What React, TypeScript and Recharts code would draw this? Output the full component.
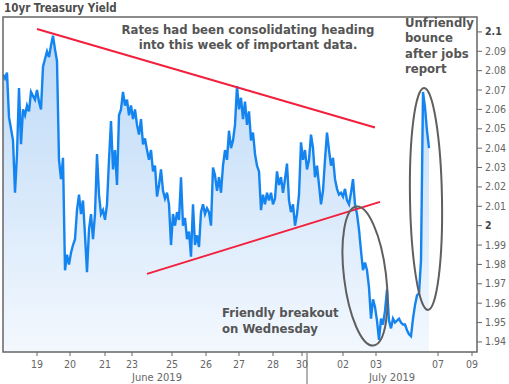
import React from 'react';
import { AreaChart, Area, XAxis, YAxis, ReferenceLine, ReferenceArea, ReferenceDot } from 'recharts';

// 10yr Treasury yield, sampled along a trading-time index
const yields = [
  2.078, 2.076, 2.079, 2.056, 2.050, 2.044, 2.017, 2.037, 2.071, 2.042,
  2.060, 2.057, 2.062, 2.059, 2.069, 2.067, 2.065, 2.070, 2.064, 2.060,
  2.082, 2.086, 2.090, 2.087, 2.093, 2.098, 2.091, 2.085, 2.034, 2.024,
  2.035, 1.977, 1.985, 1.980, 1.986, 1.990, 1.993, 2.008, 2.016, 2.006,
  2.013, 1.995, 1.976, 1.998, 2.006, 1.993, 2.006, 2.037, 2.016, 2.006,
  2.008, 2.003, 2.011, 2.034, 2.054, 2.029, 2.039, 2.021, 2.057, 2.060,
  2.069, 2.062, 2.065, 2.057, 2.062, 2.055, 2.060, 2.052, 2.047, 2.055,
  2.042, 2.045, 2.039, 2.034, 2.039, 2.028, 2.031, 2.015, 2.021, 2.029,
  2.018, 2.014, 2.017, 2.011, 1.990, 2.006, 2.000, 2.007, 2.003, 2.025,
  2.000, 2.004, 1.993, 1.997, 1.984, 2.011, 1.990, 1.995, 1.989, 2.007,
  2.011, 2.006, 2.009, 2.007, 2.000, 2.030, 2.026, 2.018, 2.025, 2.017,
  2.031, 2.039, 2.034, 2.049, 2.040, 2.044, 2.052, 2.072, 2.060, 2.066,
  2.055, 2.064, 2.052, 2.059, 2.044, 2.048, 2.037, 2.031, 2.028, 2.008,
  2.016, 2.011, 2.017, 2.013, 2.017, 2.011, 2.014, 2.028, 2.021, 2.025,
  2.017, 2.024, 2.032, 2.013, 2.007, 2.011, 2.000, 2.006, 2.016, 2.043,
  2.034, 2.039, 2.029, 2.034, 2.047, 2.040, 2.025, 2.031, 2.021, 2.011,
  2.018, 2.034, 2.048, 2.039, 2.031, 2.035, 2.024, 2.019, 2.016, 2.017,
  2.015, 2.019, 2.013, 2.011, 2.017, 2.024, 2.011, 2.006, 1.998, 1.987,
  1.977, 1.981, 1.977, 1.968, 1.952, 1.962, 1.958, 1.951, 1.941, 1.952,
  1.949, 1.956, 1.967, 1.951, 1.947, 1.952, 1.950, 1.951, 1.952, 1.950,
  1.949, 1.949, 1.946, 1.944, 1.943, 1.952, 1.959, 1.964, 1.965, 1.982,
  2.069, 2.061, 2.049, 2.040,
];

const dayTickPos = [17, 33.5, 51, 64.5, 84.5, 101.5, 118, 135, 149.5, 170, 186.5, 217.5, 234.5];
const dayTickLabels = ['19', '20', '21', '23', '25', '26', '27', '28', '30', '02', '03', '07', '09'];
const monthTickPos = [77, 194.5];
const monthTickLabels = ['June 2019', 'July 2019'];
const monthBoundary = 152;
const xDomain = [0, 237];

const yTicks = [1.94, 1.95, 1.96, 1.97, 1.98, 1.99, 2, 2.01, 2.02, 2.03, 2.04, 2.05, 2.06, 2.07, 2.08, 2.09, 2.1];
const boldYTicks = [2, 2.1];
const yDomain = [1.9348, 2.1077];

const upperTrend = [{ x: 17, y: 2.1015 }, { x: 186, y: 2.0507 }];
const lowerTrend = [{ x: 72, y: 1.9751 }, { x: 188.5, y: 2.0123 }];

const breakoutCircle = { x: 181, y: 1.974, rx: 21, ry: 70, angle: -7 };
const bounceCircle = { x: 211.5, y: 2.0138, rx: 16, ry: 111, angle: -1 };

const data = yields.map((v, i) => ({ i, v }));

const FONT = "'DejaVu Sans Condensed', 'DejaVu Sans', sans-serif";
const TEXT_GRAY = '#555';
const AXIS_GRAY = '#666';

const DayTick = (props: any) => {
  const { x, y, payload } = props;
  const idx = dayTickPos.indexOf(payload.value);
  return (
    <text x={x} y={y + 11.5} textAnchor="middle" fontSize={10.5} fontFamily={FONT} fill={AXIS_GRAY}>
      {idx >= 0 ? dayTickLabels[idx] : ''}
    </text>
  );
};

const MonthTick = (props: any) => {
  const { x, y, payload } = props;
  const idx = monthTickPos.indexOf(payload.value);
  if (idx >= 0) {
    return (
      <text x={x} y={y + 13} textAnchor="middle" fontSize={11} fontFamily={FONT} fill={AXIS_GRAY}>
        {monthTickLabels[idx]}
      </text>
    );
  }
  return <line x1={x} x2={x} y1={y - 15} y2={y + 16} stroke={AXIS_GRAY} strokeWidth={1} />;
};

const YTick = (props: any) => {
  const { x, y, payload } = props;
  const bold = boldYTicks.includes(payload.value);
  return (
    <text
      x={x}
      y={y + 3.5}
      textAnchor="start"
      fontSize={10.5}
      fontFamily={FONT}
      fontWeight={bold ? 'bold' : 'normal'}
      fill={bold ? '#444' : AXIS_GRAY}
    >
      {String(payload.value)}
    </text>
  );
};

const ellipseShape = (c: { rx: number; ry: number; angle: number }) => (p: any) => (
  <ellipse
    cx={p.cx}
    cy={p.cy}
    rx={c.rx}
    ry={c.ry}
    transform={`rotate(${c.angle} ${p.cx} ${p.cy})`}
    fill="none"
    stroke="#5f5f5f"
    strokeWidth={2}
  />
);

export default function App() {
  const annStyle = { fontFamily: FONT, fontWeight: 'bold' as const, fontSize: 13, fill: TEXT_GRAY };
  return (
    <div style={{ position: 'absolute', left: 0, top: 0, width: 509, height: 384, background: '#fff' }}>
      <AreaChart width={509} height={384} data={data} margin={{ top: 17, right: 0, bottom: 0, left: 3 }}>
        <defs>
          <linearGradient id="yieldFill" x1="0" y1="0" x2="0" y2="1">
            <stop offset="0%" stopColor="#bcd9f7" />
            <stop offset="100%" stopColor="#f3f8fe" />
          </linearGradient>
        </defs>
        <XAxis
          dataKey="i"
          type="number"
          domain={xDomain}
          allowDataOverflow
          ticks={dayTickPos}
          interval={0}
          height={16}
          axisLine={false}
          tickLine={{ stroke: AXIS_GRAY }}
          tickSize={4}
          tickMargin={0}
          tick={<DayTick />}
        />
        <XAxis
          xAxisId="month"
          dataKey="i"
          type="number"
          domain={xDomain}
          allowDataOverflow
          ticks={[...monthTickPos, monthBoundary]}
          interval={0}
          height={16}
          axisLine={false}
          tickLine={false}
          tickSize={0}
          tickMargin={0}
          tick={<MonthTick />}
        />
        <YAxis
          orientation="right"
          width={32}
          type="number"
          domain={yDomain}
          allowDataOverflow
          ticks={yTicks}
          interval={0}
          axisLine={false}
          tickLine={{ stroke: AXIS_GRAY }}
          tickSize={5}
          tickMargin={3}
          tick={<YTick />}
        />
        <Area
          type="linear"
          dataKey="v"
          stroke="#1484f0"
          strokeWidth={2.4}
          strokeLinejoin="miter"
          fill="url(#yieldFill)"
          fillOpacity={1}
          dot={false}
          activeDot={false}
          isAnimationActive={false}
        />
        <ReferenceArea
          x1={xDomain[0]}
          x2={xDomain[1]}
          y1={yDomain[0]}
          y2={yDomain[1]}
          fill="none"
          fillOpacity={0}
          stroke={AXIS_GRAY}
          strokeWidth={1.5}
          ifOverflow="visible"
        />
        <ReferenceLine segment={upperTrend} stroke="#f2203c" strokeWidth={2} ifOverflow="visible" />
        <ReferenceLine segment={lowerTrend} stroke="#f2203c" strokeWidth={2} ifOverflow="visible" />
        <ReferenceDot x={breakoutCircle.x} y={breakoutCircle.y} ifOverflow="visible" shape={ellipseShape(breakoutCircle)} />
        <ReferenceDot x={bounceCircle.x} y={bounceCircle.y} ifOverflow="visible" shape={ellipseShape(bounceCircle)} />
      </AreaChart>
      <svg width={509} height={384} style={{ position: 'absolute', left: 0, top: 0, pointerEvents: 'none' }}>
        <text x={4} y={12} fontFamily={FONT} fontWeight="bold" fontSize={11.5} fill="#4d4d4d">10yr Treasury Yield</text>
        <text x={248} y={34} textAnchor="middle" {...annStyle}>Rates had been consolidating heading</text>
        <text x={248} y={49} textAnchor="middle" {...annStyle}>into this week of important data.</text>
        <text x={405} y={26.5} {...annStyle}>Unfriendly</text>
        <text x={405} y={42} {...annStyle}>bounce</text>
        <text x={405} y={57.5} {...annStyle}>after jobs</text>
        <text x={405} y={73} {...annStyle}>report</text>
        <text x={222} y={317} {...annStyle}>Friendly breakout</text>
        <text x={222} y={333} {...annStyle}>on Wednesday</text>
      </svg>
    </div>
  );
}
